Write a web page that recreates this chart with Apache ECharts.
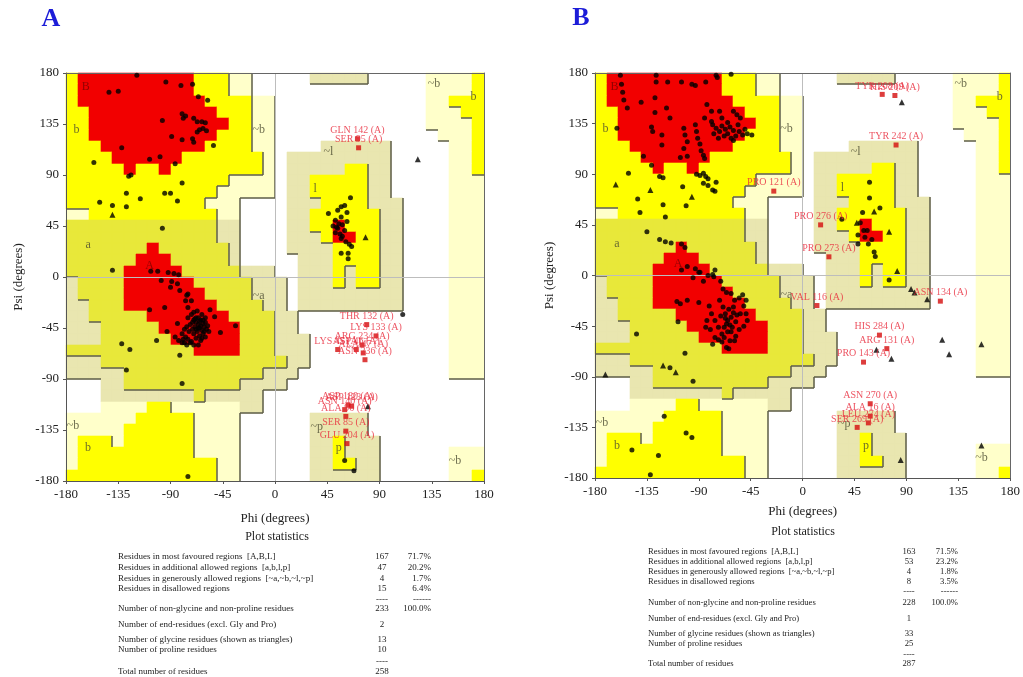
<!DOCTYPE html>
<html><head><meta charset="utf-8">
<script src="https://cdn.jsdelivr.net/npm/echarts/dist/echarts.min.js"></script>
<style>html,body{margin:0;padding:0;background:#fff;}#c{width:1023px;height:677px;}</style>
</head><body><div id="c"></div>
<script>
// ---- Ramachandran region map: 10-degree cells, row 0 = psi 170..180, col 0 = phi -180..-170
// R = most favoured, Y/y = additional allowed, K/C = generously allowed, . = disallowed
const regionMap = [
"YRRRRRRRRRRYYYCC.....KKKKK.....CCCCY",
"YRRRRRRRRRRYYYCC...............CCCCY",
"YRRRRRRRRRRRYYYYCC.............CCYYY",
"YYRRRRRRRRRRRYYYCC.............CCCYY",
"YYRRRRRRRRRRRRYYCC.............CCCCY",
"YYRRRRRRRRRRRYYYCC..............CCCY",
"YYYRRRRRRRRRYYYYCC....KKKKKK.....CCY",
"YYYYRRRRRRYYYYYYYC.KKKKKKKKK.....CCY",
"YYYYYRYYRYYYYYYYYC.KKKKKYYKK.....CCY",
"YYYYYYYYYYYYYYCCCC.KKYYYYYKK.....CCC",
"YYYYYYYYYYYYYCCCCC.KKYYYYYKK.....CCC",
"YYYYYYYYYYYYCCC....KKKYYYYKKK....CCC",
"CCYYYYYYYYYYYCC....KKYYYYYYKK....CCC",
"yyyyyyyyyyyyyKK....KKYYRYYYKK....CCC",
"yyyyyyyyyyyyyKK....KKKYRRYYKK....CCC",
"yyyyyyyRyyyyyyK....KKKKYYYYKK....CCC",
"yyyyyyRRRyyyyyK.....KKKYYYYKK....CCC",
"yyyyyRRRRRyyyyyKKK..KKKYKYYKK....CCC",
"KyyyyRRRRRRyyyyyKKK.KKKYKYYKK....CCC",
"KyyyyRRRRRRRyyyyKKK.KKKKKKKKK....CCC",
"KKyyyRRRRRRRRyyyyKK.KKKKKKKKK....CCC",
"KKyyyyyRRRRRRRyyyyKK.............CCC",
"KKKyyyyyRRRRRRRyyyKK.............CCC",
"KKKyyyyyyRRRRRRyyyKKK............CCC",
"yyyyyyyyyyyRRRRyyyKKK............CCC",
"KKKyyyyyyyyyyyyyyyyKK............CCC",
"KKKKKyyyyyyyyyyyyKKK.............CCC",
"...KKyyyyyyyyyyKKKK.................",
"...KKKKKKKKyKKKKK...................",
"...CCCCYYCCCCCCKK...................",
"CCCCCCYYYYYCCCC......KKKKK..........",
"CCCCCYYYYYYCCCC......KKKKK..........",
"CYYYCYYYYYYCCCC......KKYKKK.........",
"CYYYYYYYYYYCCCC......KKYKKK......CCC",
"CYYYYYYYYYYYYCC......KKYYKK......CCC",
"YYYYYYYYYYYYYCC......KKKKKK......CCY"
];
const regionCodes = "RYyKC";
const regionColors = ['#F20000','#FFFF00','#E8E83A','#E9E6B0','#FFFFCA'];
const regionLevels = {'R':3,'Y':2,'y':2,'K':1,'C':1,'.':0};
const regionLabels = [
 [-163,168,'B'],[-171,130,'b'],[-161,28,'a'],[-108,10,'A'],[-14,130,'~b'],[-14,-17,'~a'],
 [46,110,'~l'],[34.5,78,'l'],[-174,-131,'~b'],[-161,-151,'b'],[36,-132,'~p'],[55,-151,'p'],
 [155,-162,'~b'],[137,170,'~b'],[171,159,'b']
];

// ---- Panel A residues [phi, psi]
const pointsA = [
 [-119,178],[-94,172],[-143,163],[-135,164],[-81,169],[-71,170],[-66,159],[-58,156],
 [-97,138],[-80,144],[-77,142],[-79,140],[-70,140],[-67,137],[-63,137],[-60,136],[-62,131],[-65,130],
 [-67,128],[-59,129],[-71,122],[-70,119],[-80,121],[-89,124],[-53,116],
 [-132,114],[-108,104],[-99,106],[-86,100],
 [-156,101],[-126,89],[-124,90],[-80,83],[-128,74],[-95,74],[-90,74],[-116,69],[-151,66],[-140,63],
 [-128,62],[-84,67],[-97,43],[-140,6],
 [-107,5],[-101,5],[-92,4],[-87,3],[-83,2],[-98,-3],[-89,-4],[-90,-9],[-84,-6],[-82,-12],[-76,-16],
 [-75,-15],[-77,-21],[-72,-21],[-75,-27],[-95,-27],[-108,-29],[-70,-31],[-68,-36],[-75,-36],[-84,-41],
 [-93,-48],[-80,-50],[-77,-53],[-75,-55],[-72,-57],
 [-72,-33],[-70,-38],[-68,-40],[-66,-42],[-64,-38],[-62,-41],[-65,-45],[-63,-47],[-61,-44],[-60,-40],
 [-67,-48],[-69,-44],[-71,-46],[-73,-42],[-66,-36],[-63,-33],[-60,-36],[-58,-43],[-62,-50],[-65,-52],
 [-68,-54],[-70,-50],[-74,-48],[-76,-44],[-64,-56],[-60,-53],[-57,-48],[-59,-46],[-62,-38],[-67,-30],
 [-71,-40],[-66,-45],[-64,-43],[-68,-46],[-61,-48],[-69,-37],[-65,-39],[-63,-54],[-78,-46],[-79,-55],
 [-73,-58],[-70,-60],[-66,-60],[-86,-53],[-83,-56],[-80,-58],[-78,-58],[-76,-60],
 [-56,-29],[-52,-35],[-47,-49],[-34,-43],[-102,-56],[-132,-59],[-125,-64],[-82,-69],[-128,-82],
 [-80,-94],[-75,-176],
 [65,70],[46,56],[54,59],[57,62],[60,63],[62,57],[57,53],[52,50],[55,47],[50,45],[54,43],[58,46],
 [62,49],[60,41],[56,38],[52,39],[57,34],[61,31],[64,29],[66,27],[53,44],[58,36],[57,21],[63,21],[63,16],
 [110,-33],[60,-162],[68,-171]
];
const glyA = [[-140,55],[78,35],[123,104],[80,-114]];
const flaggedA = [
 ['GLN 142 (A)',71,122],['SER 95 (A)',72,114],['THR 132 (A)',79,-42],['LYS 133 (A)',87,-52],
 ['LYS 45 (A)',54,-64],['ARG 234 (A)',75,-60],['ASP 46 (A)',70,-64],['ALA 47 (A)',76,-67],
 ['ASN 236 (A)',77.5,-73],['ASP 180 (A)',63,-113],['ASN 140 (A)',60,-117],['ASP 123 (A)',66,-114],
 ['ALA 96 (A)',61,-123],['SER 85 (A)',61,-136],['GLU 204 (A)',62,-147]
];

// ---- Panel B residues [phi, psi]
const pointsB = [
 [-158,178],[-157,170],[-156,163],[-155,156],[-152,149],[-127,178],[-127,172],[-117,172],
 [-105,172],[-96,170],[-93,169],[-84,172],[-75,178],[-74,176],[-62,179],
 [-140,154],[-128,158],[-128,145],[-118,149],[-115,140],
 [-83,152],[-79,146],[-72,146],[-70,140],[-79,137],[-85,140],[-60,146],[-57,143],[-54,140],
 [-78,134],[-75,131],[-72,128],[-70,133],[-67,130],[-65,126],[-63,132],[-60,129],[-58,124],[-55,128],
 [-52,125],[-50,130],[-62,122],[-68,124],[-73,122],[-77,126],[-56,134],[-65,136],[-48,126],[-60,120],
 [-44,125],[-161,131],[-131,132],[-130,128],[-122,125],[-122,116],[-103,131],[-102,125],[-103,113],[-100,119],
 [-93,134],[-92,128],[-91,122],[-89,117],[-88,111],[-86,107],[-85,104],
 [-106,105],[-100,106],[-138,106],[-131,98],[-124,88],[-151,91],[-121,87],[-104,79],[-101,62],
 [-92,90],[-89,89],[-86,91],[-84,88],[-82,86],[-86,82],[-82,80],[-78,76],[-76,75],[-75,83],
 [-143,68],[-141,56],[-121,63],[-119,52],[-135,39],[-124,32],[-119,30],[-114,29],[-105,28],[-102,25],
 [-100,8],[-93,6],[-89,3],[-76,5],[-78,1],
 [-105,5],[-95,-2],[-90,3],[-86,-5],[-82,0],[-77,-1],[-71,-5],
 [-109,-23],[-106,-25],[-100,-22],[-108,-41],
 [-90,-24],[-81,-27],[-72,-22],[-69,-12],[-66,-15],[-62,-16],[-59,-22],[-55,-20],[-52,-17],[-49,-22],
 [-51,-27],[-54,-34],[-49,-34],[-48,-40],[-51,-45],[-55,-48],[-58,-54],[-63,-58],[-64,-65],[-70,-52],
 [-73,-46],[-76,-40],[-79,-34],[-83,-40],[-84,-46],[-80,-48],[-76,-55],[-73,-57],[-70,-59],[-68,-46],
 [-65,-40],[-62,-37],[-60,-33],[-58,-41],[-61,-46],[-65,-50],[-67,-34],[-64,-30],[-69,-28],[-71,-36],
 [-66,-43],[-63,-44],[-60,-28],[-57,-35],[-67,-38],[-62,-50],[-68,-55],
 [-78,-61],[-59,-58],[-66,-64],[-144,-52],[-102,-69],[-115,-82],[-95,-94],
 [-120,-125],[-101,-140],[-96,-144],[-148,-155],[-125,-160],[-132,-177],
 [58,83],[58,69],[67,60],[52,56],[34,50],[50,47],[56,40],[53,40],[48,36],[54,34],[60,32],[57,28],
 [62,21],[63,17],[48,28],[75,-4]
];
const glyB = [
 [86,154],[62,57],[47,47],[75,39],[82,4],[94,-12],[97,-15],[108,-21],[121,-57],[127,-70],[155,-61],
 [64,-66],[77,-74],[155,-151],[85,-164],[-171,-88],[-121,-80],[-110,-86],[-162,81],[-132,76],[-96,70]
];
const flaggedB = [
 ['TYR 208 (A)',69,161],['HIS 209 (A)',80,160],['TYR 242 (A)',81,116],['PRO 121 (A)',-25,75],
 ['PRO 276 (A)',15.6,45],['PRO 273 (A)',22.8,16.6],['VAL 116 (A)',12.4,-26.7],['ASN 134 (A)',119.4,-22.8],
 ['HIS 284 (A)',66.6,-53],['ARG 131 (A)',73,-65],['PRO 143 (A)',52.8,-77],['ASN 270 (A)',58.6,-114],
 ['ALA 16 (A)',58.6,-125],['LEU 274 (A)',57,-131],['SER 269 (A)',47.3,-135]
];

// ---- Plot statistics
const statRowLabels = [
 'Residues in most favoured regions  [A,B,L]','Residues in additional allowed regions  [a,b,l,p]',
 'Residues in generously allowed regions  [~a,~b,~l,~p]','Residues in disallowed regions','',
 'Number of non-glycine and non-proline residues','Number of end-residues (excl. Gly and Pro)',
 'Number of glycine residues (shown as triangles)','Number of proline residues','','Total number of residues'
];
const statCountsA = ['167','47','4','15','----','233','2','13','10','----','258'];
const statPctA = ['71.7%','20.2%','1.7%','6.4%','------','100.0%','','','','',''];
const statCountsB = ['163','53','4','8','----','228','1','33','25','----','287'];
const statPctB = ['71.5%','23.2%','1.8%','3.5%','------','100.0%','','','','',''];

// ---------------------------------------------------------------
const FONT = "'Liberation Serif','Times New Roman',serif";
const cells = [], edges = [];
const lv = (r,c) => regionLevels[regionMap[r][c]];
for (let r = 0; r < 36; r++) {
  for (let c = 0; c < 36; c++) {
    const ch = regionMap[r][c];
    const phi0 = -180 + 10*c, psi0 = 170 - 10*r;
    if (ch !== '.') cells.push([phi0, psi0, regionCodes.indexOf(ch)]);
    const L = lv(r,c);
    if (L > 0 && L < 3) {
      if (c < 35 && lv(r,c+1) < L) edges.push([phi0+10, psi0, phi0+10, psi0+10]);
      if (r < 35 && lv(r+1,c) < L) edges.push([phi0, psi0, phi0+10, psi0]);
    }
  }
}

const grids = [
  {left:66, top:73, width:418, height:408},
  {left:595, top:73, width:416, height:405}
];
const xNameGap = [31, 27], yNameGap = [41, 39];
const xAxis = [], yAxis = [], series = [];
const axisBase = {type:'value', min:-180, max:180, splitLine:{show:false}, z:3};
grids.forEach((g, gi) => {
  xAxis.push(Object.assign({}, axisBase, {gridIndex:gi, position:'bottom', interval:45,
    name:'Phi (degrees)', nameLocation:'middle', nameGap:xNameGap[gi],
    nameTextStyle:{fontFamily:FONT, fontSize:13, color:'#222'},
    axisLine:{show:true, onZero:false, lineStyle:{color:'#555', width:1}},
    axisTick:{show:true, length:3, lineStyle:{color:'#555'}},
    axisLabel:{fontFamily:FONT, fontSize:13, color:'#222', margin:7}}));
  xAxis.push(Object.assign({}, axisBase, {gridIndex:gi, position:'top', interval:180,
    axisLine:{show:true, onZero:false, lineStyle:{color:'#666', width:1}},
    axisTick:{show:false}, axisLabel:{show:false},
    splitLine:{show:true, lineStyle:{color:'#bdbdbd', width:1}}}));
  yAxis.push(Object.assign({}, axisBase, {gridIndex:gi, position:'left', interval:45,
    name:'Psi (degrees)', nameLocation:'middle', nameGap:yNameGap[gi],
    nameTextStyle:{fontFamily:FONT, fontSize:13, color:'#222'},
    axisLine:{show:true, onZero:false, lineStyle:{color:'#555', width:1}},
    axisTick:{show:true, length:3, lineStyle:{color:'#555'}},
    axisLabel:{fontFamily:FONT, fontSize:13, color:'#222', margin:7}}));
  yAxis.push(Object.assign({}, axisBase, {gridIndex:gi, position:'right', interval:180,
    axisLine:{show:true, onZero:false, lineStyle:{color:'#666', width:1}},
    axisTick:{show:false}, axisLabel:{show:false},
    splitLine:{show:true, lineStyle:{color:'#bdbdbd', width:1}}}));

  const ax = {xAxisIndex:2*gi, yAxisIndex:2*gi};
  series.push(Object.assign({type:'custom', silent:true, z:1, data:cells, encode:{x:0, y:1},
    renderItem:(p, api) => {
      const a = api.coord([api.value(0), api.value(1)+10]);
      const b = api.coord([api.value(0)+10, api.value(1)]);
      const x0 = Math.round(a[0]), y0 = Math.round(a[1]);
      const x1 = Math.round(b[0]), y1 = Math.round(b[1]);
      return {type:'rect', shape:{x:x0, y:y0, width:x1-x0, height:y1-y0},
        style:{fill:regionColors[api.value(2)], stroke:regionColors[api.value(2)], lineWidth:0.6}};
    }}, ax));
  series.push(Object.assign({type:'custom', silent:true, z:2, data:edges, encode:{x:[0,2], y:[1,3]},
    renderItem:(p, api) => {
      const a = api.coord([api.value(0), api.value(1)]);
      const b = api.coord([api.value(2), api.value(3)]);
      return {type:'line', shape:{x1:Math.round(a[0]), y1:Math.round(a[1]), x2:Math.round(b[0]), y2:Math.round(b[1])},
        style:{stroke:'#5c5c48', lineWidth:1.5}};
    }}, ax));
  series.push(Object.assign({type:'scatter', silent:true, z:4, symbolSize:1,
    itemStyle:{color:'rgba(0,0,0,0)'},
    data:regionLabels.map(d => ({value:[d[0], d[1]], name:d[2],
      label:{color:(d[2] === 'A' || d[2] === 'B') ? '#7a0000' : '#4a4a30'}})),
    label:{show:true, position:'inside', formatter:'{b}', fontFamily:FONT, fontSize:12,
      color:'#4a4a30'}}, ax));
  const pts = gi ? pointsB : pointsA, gly = gi ? glyB : glyA, fl = gi ? flaggedB : flaggedA;
  series.push(Object.assign({type:'scatter', silent:true, z:5, symbol:'circle', symbolSize:5,
    itemStyle:{color:'#000'}, data:pts}, ax));
  series.push(Object.assign({type:'scatter', silent:true, z:5, symbol:'triangle', symbolSize:6,
    itemStyle:{color:'#000'}, data:gly}, ax));
  series.push(Object.assign({type:'scatter', silent:true, z:6, symbol:'rect', symbolSize:5,
    itemStyle:{color:'#d40d0d'},
    data:fl.map(d => ({name:d[0], value:[d[1], d[2]]})),
    label:{show:true, position:'top', distance:1, formatter:'{b}', fontFamily:FONT, fontSize:10,
      color:'#e8283a'}}, ax));
});

// statistics tables
const graphic = [];
const tables = [
  {title:[277,537], lx:118, cx:382, px:431, rows:[557,568,579,589,600,609,625,640,650,662,672], fs:9, counts:statCountsA, pct:statPctA},
  {title:[803,532], lx:648, cx:909, px:958, rows:[552,562,572,582,592,603,619,634,644,655,664], fs:8.6, counts:statCountsB, pct:statPctB}
];
tables.forEach(t => {
  graphic.push({type:'text', x:t.title[0], y:t.title[1], style:{text:'Plot statistics',
    font:'12px ' + FONT, fill:'#222', align:'center', verticalAlign:'middle'}});
  statRowLabels.forEach((s, i) => {
    const y = t.rows[i];
    if (s) graphic.push({type:'text', x:t.lx, y:y, style:{text:s, font:t.fs + 'px ' + FONT, fill:'#222', align:'left', verticalAlign:'middle'}});
    if (t.counts[i]) graphic.push({type:'text', x:t.cx, y:y, style:{text:t.counts[i], font:t.fs + 'px ' + FONT, fill:'#222', align:'center', verticalAlign:'middle'}});
    if (t.pct[i]) graphic.push({type:'text', x:t.px, y:y, style:{text:t.pct[i], font:t.fs + 'px ' + FONT, fill:'#222', align:'right', verticalAlign:'middle'}});
  });
});
graphic.push({type:'text', x:51, y:19, style:{text:'A', font:'bold 26px ' + FONT, fill:'#1c1cd8', align:'center', verticalAlign:'middle'}});
graphic.push({type:'text', x:581, y:18, style:{text:'B', font:'bold 26px ' + FONT, fill:'#1c1cd8', align:'center', verticalAlign:'middle'}});

const chart = echarts.init(document.getElementById('c'), null, {renderer:'canvas'});
chart.setOption({animation:false, backgroundColor:'#fff', grid:grids, xAxis:xAxis, yAxis:yAxis, series:series, graphic:graphic});
</script></body></html>
